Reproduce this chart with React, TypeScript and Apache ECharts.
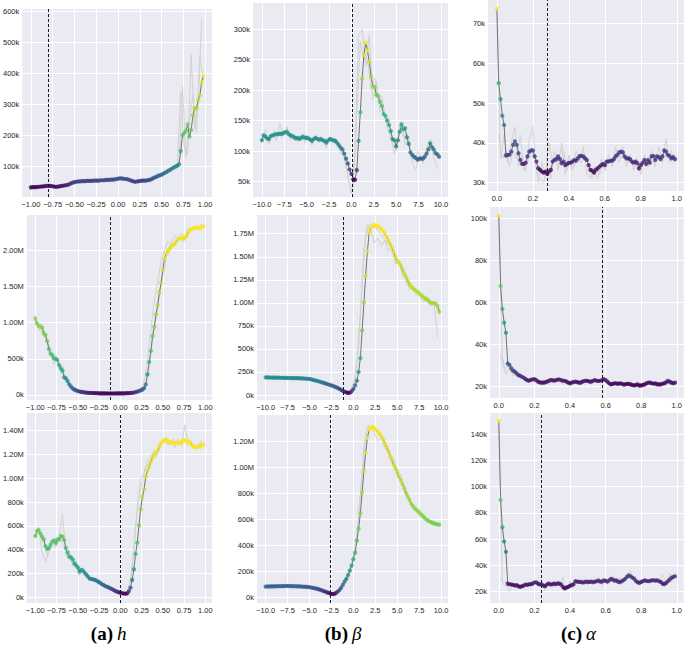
import React, { useEffect, useRef } from 'react';
import * as echarts from 'echarts';

// sampling grids of the parameter sweeps
const sweep = (start: number, step: number, n: number) =>
  Array.from({ length: n }, (_, i) => Math.round((start + i * step) * 1e4) / 1e4);
const hX = sweep(-1, 0.02, 100);
const betaX = sweep(-10, 0.2, 100);
const alphaX = sweep(0, 0.01, 100);
const hXRunA = sweep(-1, 0.04, 50);
const hXRunB = sweep(-0.98, 0.04, 50);
const betaXRunA = sweep(-10, 0.4, 50);
const betaXRunB = sweep(-9.8, 0.4, 50);
const alphaXRunA = sweep(0, 0.02, 50);
const alphaXRunB = sweep(0.01, 0.02, 50);

// tick values
const hTicks = [-1, -0.75, -0.5, -0.25, 0, 0.25, 0.5, 0.75, 1];
const betaTicks = [-10, -7.5, -5, -2.5, 0, 2.5, 5, 7.5, 10];
const alphaTicks = [0, 0.2, 0.4, 0.6, 0.8, 1.0];
const yTicksA1 = [100, 200, 300, 400, 500, 600];
const yTicksA2 = [0, 500, 1000, 1500, 2000];
const yTicksA3 = [0, 200, 400, 600, 800, 1000, 1200, 1400];
const yTicksB1 = [50, 100, 150, 200, 250, 300];
const yTicksB2 = [0, 250, 500, 750, 1000, 1250, 1500, 1750];
const yTicksB3 = [0, 200, 400, 600, 800, 1000, 1200];
const yTicksC1 = [30, 40, 50, 60, 70];
const yTicksC2 = [20, 40, 60, 80, 100];
const yTicksC3 = [20, 40, 60, 80, 100, 120, 140];

// values in thousands (k)
const hMean1 = [33,34,34,34,35,35,36,36,37,38, 38,38,37,36,35,35,36,37,38,39, 40,41,43,46,48,50,51,52,52,53, 53,53,54,54,54,54,55,55,55,55, 56,56,56,57,57,57,58,58,59,60, 61,62,62,61,60,60,58,56,54,52, 51,52,53,54,55,55,55,56,57,59, 62,65,67,70,72,74,77,80,83,87, 90,94,97,100,103,107,150,202,208,215, 237,197,218,265,288,287,313,330,372,392];
const hRun1A = [34,35,36,35,38,39,36,34,37,39, 41,44,49,52,53,52,55,53,56,54, 57,55,58,57,60,62,59,61,57,53, 50,54,56,54,58,60,68,74,75,86, 88,100,98,340,160,140,460,220,310,575];
const hRun1B = [33,34,36,37,37,37,37,36,36,40, 40,45,50,51,54,52,55,53,56,54, 57,56,58,59,58,61,62,58,57,51, 53,52,56,55,62,63,68,76,78,90, 92,108,104,360,130,250,330,210,450,380];
const hMean2 = [1057,988,956,943,929,850,828,745,634,570, 552,506,497,483,414,368,336,244,230,193, 147,115,92,74,64,55,48,43,39,36, 33,31,29,28,27,26,25,24,23,23, 22,22,21,21,21,21,21,21,22,22, 22,23,23,24,25,26,28,30,34,40, 47,55,63,75,95,145,285,455,607,814, 943,1113,1241,1416,1545,1724,1885,1954,1991,2023, 2060,2069,2078,2124,2152,2161,2161,2165,2170,2198, 2253,2271,2290,2299,2299,2308,2308,2299,2317,2331];
const hRun2A = [1020,900,980,760,700,480,560,380,410,200, 170,80,70,45,40,32,30,27,26,23, 23,21,22,20,22,23,22,26,29,40, 55,80,180,500,900,1300,1550,1850,2000,2120, 2080,2200,2150,2230,2130,2300,2270,2340,2280,2360];
const hRun2B = [1000,870,900,720,620,420,520,300,300,160, 120,70,55,42,36,31,28,26,24,23, 22,21,21,21,22,23,24,27,32,40, 50,70,110,400,750,1050,1350,1650,1900,1980, 2050,2100,2180,2120,2210,2240,2330,2290,2340,2320];
const hMean3 = [515,557,566,538,510,487,431,406,412,440, 468,476,454,487,487,515,510,482,415,375, 342,336,319,286,269,252,216,230,224,207, 190,174,157,154,151,146,140,132,123,112, 104,95,90,84,76,70,62,53,48,42, 39,34,32,30,32,50,80,146,235,364, 459,605,739,846,908,1014,1064,1098,1140,1176, 1196,1216,1232,1266,1294,1308,1322,1327,1316,1305, 1300,1300,1294,1300,1294,1300,1294,1316,1322,1308, 1308,1305,1280,1266,1266,1260,1266,1272,1283,1283];
const hRun3A = [560,590,380,300,380,430,420,500,700,380, 400,260,300,180,240,170,160,140,150,110, 110,85,80,55,50,35,28,40,150,400, 750,1000,1050,1150,1180,1240,1200,1300,1340,1280, 1320,1260,1330,1270,1450,1270,1300,1250,1290,1320];
const hRun3B = [540,520,460,360,470,500,450,480,430,340, 300,330,220,250,190,190,145,150,120,120, 90,90,65,58,40,33,28,60,250,600, 850,980,1100,1130,1200,1180,1270,1330,1300,1280, 1330,1280,1310,1340,1290,1320,1260,1280,1250,1290];

const betaMean1 = [118,126,124,121,120,125,126,127,128,128, 129,128,130,131,132,128,126,125,123,121, 122,120,122,124,122,122,121,119,117,120, 122,120,119,120,118,117,114,118,120,119, 118,117,114,110,106,103,96,88,80,70, 63,54,53,69,117,164,219,258,278,265, 246,222,207,205,192,191,181,174,161,158, 150,143,133,120,118,108,118,132,144,136, 138,123,112,98,94,91,89,86,88,88, 88,91,96,103,113,107,103,97,95,91];
const betaRun1A = [118,135,112,130,118,146,125,140,118,128, 115,128,114,126,110,127,114,122,105,124, 112,118,96,95,60,30,95,290,300,240, 290,185,215,165,170,140,120,95,130,150, 110,125,80,70,95,80,105,120,88,72];
const betaRun1B = [130,115,122,135,124,132,128,130,120,118, 124,120,126,116,122,118,124,112,120,116, 122,105,100,75,45,40,160,280,250,250, 200,220,180,190,150,155,115,100,145,125, 130,95,85,100,90,95,110,100,95,88];
const betaMean2 = [192,191,190,190,189,189,188,188,187,187, 186,186,186,185,185,184,184,183,183,182, 181,180,179,177,176,174,170,165,160,155, 150,144,138,132,126,120,114,108,101,94, 86,77,67,56,45,35,28,24,26,40, 65,105,155,250,400,700,1000,1290,1560,1765, 1815,1832,1843,1840,1830,1818,1800,1775,1748,1714, 1675,1636,1598,1550,1500,1455,1438,1410,1365,1320, 1283,1238,1200,1176,1158,1140,1128,1114,1093,1078, 1063,1048,1040,1020,1005,995,998,990,968,904];
const betaRun2A = [190,188,186,185,184,184,183,182,181,179, 177,174,170,162,153,143,128,113,97,83, 68,52,35,24,35,120,350,900,1600,1850, 1780,1650,1700,1620,1680,1560,1600,1420,1450,1300, 1250,1150,1170,1080,1110,1000,1060,960,1000,620];
const betaRun2B = [191,189,188,187,186,185,184,183,182,181, 178,175,172,165,156,145,133,120,107,93, 76,55,34,24,45,160,500,1200,1700,1850, 1840,1810,1760,1700,1660,1620,1500,1430,1390,1280, 1210,1190,1120,1100,1040,1030,990,1010,960,880];
const betaMean3 = [82,83,83,84,84,84,85,85,85,86, 86,87,87,87,86,86,85,85,84,84, 83,82,81,80,79,77,75,72,69,66, 63,58,53,48,43,38,33,28,25,26, 32,42,55,72,95,120,141,171,205,243, 292,343,435,527,645,808,969,1110,1225,1289, 1297,1309,1297,1284,1271,1253,1233,1212,1182,1151, 1118,1084,1054,1015,990,957,926,900,870,836, 803,772,747,716,701,683,670,660,645,632, 619,604,593,586,578,573,568,563,560,558];
const betaRun3A = [85,82,86,84,87,85,88,85,84,85, 82,80,78,72,64,56,47,38,30,26, 40,65,105,155,220,320,480,800,1150,1310, 1320,1260,1200,1230,1140,1120,1030,1000,900,880, 780,760,680,660,620,610,590,570,555,560];
const betaRun3B = [84,85,86,85,86,88,86,87,85,84, 83,81,78,71,63,55,46,37,28,26, 52,85,135,185,260,380,600,950,1250,1320, 1300,1290,1250,1210,1170,1100,1060,980,940,850, 800,730,690,660,630,600,580,570,565,550];

const alphaMean1 = [73.7,55.0,51.0,46.8,44.5,36.8,37.0,37.0,37.8,39.5, 40.4,39.5,37.4,35.7,34.7,34.7,35.0,36.6,37.8,38.1, 38.1,36.6,35.3,33.6,33.2,32.8,32.5,32.8,32.2,32.8, 33.2,35.3,35.7,35.9,36.6,35.9,34.9,35.3,34.4,34.7, 35.0,35.0,35.3,35.7,35.5,36.1,36.7,36.7,36.6,36.1, 35.7,34.4,33.2,33.0,32.5,33.2,33.6,34.0,34.4,34.7, 34.4,35.3,35.3,35.5,35.5,35.9,36.6,37.0,37.6,37.8, 37.6,36.6,36.1,36.1,35.9,35.3,35.0,35.3,34.9,33.6, 34.4,35.0,35.7,34.7,35.7,35.0,36.6,36.7,35.7,36.6, 36.4,35.9,36.6,38.1,37.8,37.0,36.7,36.1,36.4,35.9];
const alphaRun1A = [73,36,42,35,40,44,34,37,33,41, 44,33,31,30,34,31,38,33,40,32, 37,33,38,35,39,32,31,34,31,36, 33,37,34,39,35,39,34,37,33,36, 32,37,34,38,34,39,35,41,35,37];
const alphaRun1B = [42,36,38,34,38,36,42,33,35,38, 36,30,35,32,40,35,36,34,38,33, 36,34,37,35,37,34,31,34,32,35, 34,36,35,38,36,37,35,36,34,33, 35,34,36,35,37,36,38,36,38,35];
const alphaMean2 = [101.3,67.8,56.9,50.4,45.6,31.0,30.3,28.7,27.6,27.1, 26.3,25.5,25.2,24.7,24.2,23.6,23.1,22.8,23.3,23.4, 23.6,23.1,22.4,22.0,21.9,21.9,22.0,22.4,22.7,23.1, 23.1,22.8,23.1,23.3,23.4,23.1,22.8,22.8,22.4,21.9, 21.6,21.9,22.2,22.4,22.2,21.9,21.9,22.4,22.7,22.8, 22.7,22.4,22.4,22.8,23.1,22.8,22.7,22.8,23.1,23.6, 23.1,22.4,21.6,21.1,21.3,21.6,21.6,21.3,21.6,21.4, 21.1,21.1,21.3,21.3,21.1,20.8,20.6,20.8,21.1,20.5, 20.6,20.8,21.1,21.6,21.9,21.9,21.6,21.4,21.6,21.1, 21.1,21.1,21.4,21.6,22.0,22.7,22.4,21.9,21.6,21.9];
const alphaRun2A = [101,34,26,29,25,27,24,25,22,24, 22,23,21,23,21,24,22,24,21,23, 20,23,21,23,21,23,21,24,22,24, 22,21,22,20,22,20,22,20,21,20, 21,22,21,22,20,22,21,24,21,22];
const alphaRun2B = [35,28,30,27,26,25,24,25,23,24, 23,22,23,22,24,23,24,22,23,22, 23,22,22,23,22,22,23,22,23,23, 22,21,22,21,22,21,22,21,21,21, 21,22,22,21,22,21,22,23,22,22];
const alphaMean3 = [150.4,89.9,69.0,58.3,50.4,26.2,25.7,25.5,25.2,24.7, 25.0,24.2,23.7,24.2,24.7,25.5,25.2,25.7,25.7,26.2, 27.0,27.2,26.2,25.5,25.7,24.7,24.2,25.5,26.2,25.5, 25.7,26.2,25.7,26.4,26.2,25.5,23.7,22.5,23.2,23.7, 24.5,25.0,25.7,28.0,27.7,27.5,27.5,27.0,27.2,27.7, 27.5,27.5,27.7,27.2,27.7,28.0,28.5,27.7,27.7,28.7, 28.2,27.7,28.7,29.8,29.2,28.5,28.7,27.7,27.2,28.0, 28.7,29.8,31.3,32.5,31.8,30.8,30.0,28.2,27.2,26.7, 27.5,28.0,28.7,28.2,28.0,28.2,28.7,28.7,28.5,28.7, 28.0,27.5,26.2,25.7,26.7,28.0,29.2,30.5,31.3,31.8];
const alphaRun3A = [150,28,27,20,26,22,25,22,27,24, 28,24,27,21,28,23,27,24,31,21, 28,23,29,26,30,25,29,26,31,25, 30,27,32,26,31,27,33,36,28,30, 26,29,27,30,27,29,33,27,34,30];
const alphaRun3B = [30,25,24,27,24,26,23,26,25,27, 26,25,24,27,25,27,26,25,23,25, 26,28,27,28,27,28,27,29,28,29, 28,30,29,28,29,30,33,30,29,27, 29,28,29,28,29,27,26,29,31,33];

// vertical dashed markers (selected parameter)
const markers = [-0.8, 0.05, 0.28, -0.12, -1.1, 0.585, 0.0, -2.6, 0.238];

const VIRIDIS = ['#440154', '#482878', '#3e4989', '#31688e', '#26828e', '#1f9e89', '#35b779', '#6ece58', '#b5de2b', '#fde725'];

const panels = [
  { x: hX, y: hMean1, runs: [[hXRunA, hRun1A], [hXRunB, hRun1B]], xt: hTicks, xd: 2, yt: yTicksA1, xr: [-1.099, 1.079], yr: [2, 608] },
  { x: betaX, y: betaMean1, runs: [[betaXRunA, betaRun1A], [betaXRunB, betaRun1B]], xt: betaTicks, xd: 1, yt: yTicksB1, xr: [-10.99, 10.79], yr: [25, 343] },
  { x: alphaX, y: alphaMean1, runs: [[alphaXRunA, alphaRun1A], [alphaXRunB, alphaRun1B]], xt: alphaTicks, xd: 1, yt: yTicksC1, xr: [-0.0495, 1.0395], yr: [27.9, 75.9] },
  { x: hX, y: hMean2, runs: [[hXRunA, hRun2A], [hXRunB, hRun2B]], xt: hTicks, xd: 2, yt: yTicksA2, xr: [-1.099, 1.079], yr: [-69, 2483] },
  { x: betaX, y: betaMean2, runs: [[betaXRunA, betaRun2A], [betaXRunB, betaRun2B]], xt: betaTicks, xd: 1, yt: yTicksB2, xr: [-10.99, 10.79], yr: [-54, 1953] },
  { x: alphaX, y: alphaMean2, runs: [[alphaXRunA, alphaRun2A], [alphaXRunB, alphaRun2B]], xt: alphaTicks, xd: 1, yt: yTicksC2, xr: [-0.0495, 1.0395], yr: [14.6, 105.4] },
  { x: hX, y: hMean3, runs: [[hXRunA, hRun3A], [hXRunB, hRun3B]], xt: hTicks, xd: 2, yt: yTicksA3, xr: [-1.099, 1.079], yr: [-48, 1549] },
  { x: betaX, y: betaMean3, runs: [[betaXRunA, betaRun3A], [betaXRunB, betaRun3B]], xt: betaTicks, xd: 1, yt: yTicksB3, xr: [-10.99, 10.79], yr: [-44, 1400] },
  { x: alphaX, y: alphaMean3, runs: [[alphaXRunA, alphaRun3A], [alphaXRunB, alphaRun3B]], xt: alphaTicks, xd: 1, yt: yTicksC3, xr: [-0.0495, 1.0395], yr: [11.4, 156.2] },
];

// layout (pixels)
const boxes = [
  { left: 16, top: 9, width: 196, height: 188 },
  { left: 253, top: 3, width: 195, height: 194 },
  { left: 488, top: 0, width: 197, height: 191 },
  { left: 20, top: 215, width: 192, height: 185 },
  { left: 257, top: 215, width: 191, height: 185 },
  { left: 490, top: 207, width: 195, height: 191 },
  { left: 20, top: 413, width: 192, height: 190 },
  { left: 257, top: 415, width: 191, height: 188 },
  { left: 490, top: 413, width: 195, height: 190 },
];

const captions = [
  { label: '(a)', sym: 'h', x: 105 },
  { label: '(b)', sym: 'β', x: 340 },
  { label: '(c)', sym: 'α', x: 574 },
];

const fmtY = (v: number) => (v >= 1000 ? (v / 1000).toFixed(2) + 'M' : Math.round(v) + 'k');
const minus = (s: string) => s.replace('-', '\u2212');
const labelFont = { fontSize: 7.5, color: '#262626', fontFamily: 'Liberation Sans' };

export default function App() {
  const ref = useRef<HTMLDivElement>(null);
  useEffect(() => {
    if (!ref.current) return;
    const chart = echarts.init(ref.current, undefined, { renderer: 'svg' });
    const grid: any[] = [];
    const xAxis: any[] = [];
    const yAxis: any[] = [];
    const series: any[] = [];
    const visualMap: any[] = [];
    panels.forEach((p, i) => {
      grid.push({ ...boxes[i], show: true, backgroundColor: '#EAEAF2', borderWidth: 0 });
      xAxis.push({
        type: 'value', gridIndex: i, min: p.xr[0], max: p.xr[1],
        axisLine: { show: false }, axisTick: { show: false, customValues: p.xt },
        axisLabel: { ...labelFont, margin: 3, customValues: p.xt, formatter: (v: number) => minus(v.toFixed(p.xd)) },
        splitLine: { show: true, lineStyle: { color: '#ffffff', width: 1 } },
      });
      yAxis.push({
        type: 'value', gridIndex: i, min: p.yr[0], max: p.yr[1],
        axisLine: { show: false }, axisTick: { show: false, customValues: p.yt },
        axisLabel: { ...labelFont, margin: 3, customValues: p.yt, formatter: fmtY },
        splitLine: { show: true, lineStyle: { color: '#ffffff', width: 1 } },
      });
      p.runs.forEach(([rx, ry]) => {
        series.push({
          type: 'line', xAxisIndex: i, yAxisIndex: i, silent: true, showSymbol: false, z: 1,
          data: (rx as number[]).map((x, k) => [x, (ry as number[])[k]]),
          lineStyle: { color: '#d2d2d2', width: 1 },
        });
      });
      series.push({
        type: 'line', xAxisIndex: i, yAxisIndex: i, silent: true, showSymbol: false, z: 2,
        data: p.x.map((x, k) => [x, p.y[k]]),
        lineStyle: { color: '#727272', width: 1 },
      });
      const sIdx = series.length;
      series.push({
        type: 'scatter', xAxisIndex: i, yAxisIndex: i, silent: true, symbolSize: 4.2, z: 3,
        data: p.x.map((x, k) => [x, p.y[k], Math.log(p.y[k])]),
      });
      visualMap.push({
        type: 'continuous', show: false, seriesIndex: sIdx, dimension: 2,
        min: Math.log(Math.min(...p.y)), max: Math.log(Math.max(...p.y)),
        inRange: { color: VIRIDIS },
      });
      series.push({
        type: 'line', xAxisIndex: i, yAxisIndex: i, silent: true, data: [], z: 5,
        markLine: {
          silent: true, symbol: ['none', 'none'], label: { show: false },
          lineStyle: { color: '#1a1a1a', type: [3, 2], width: 1 },
          data: [{ xAxis: markers[i] }],
        },
      });
    });
    const graphic: any[] = [];
    captions.forEach((c) => {
      graphic.push({
        type: 'text', x: c.x + 8, y: 633,
        style: { text: c.label, font: 'bold 19px "Liberation Serif", "DejaVu Serif", serif', fill: '#000', align: 'right', verticalAlign: 'middle' },
      });
      graphic.push({
        type: 'text', x: c.x + 12, y: 633,
        style: { text: c.sym, font: 'italic 19px "Liberation Serif", "DejaVu Serif", serif', fill: '#000', align: 'left', verticalAlign: 'middle' },
      });
    });
    chart.setOption({ animation: false, backgroundColor: '#ffffff', grid, xAxis, yAxis, series, visualMap, graphic });
    return () => chart.dispose();
  }, []);
  return <div ref={ref} style={{ position: 'fixed', left: 0, top: 0, width: 685, height: 646 }} />;
}
